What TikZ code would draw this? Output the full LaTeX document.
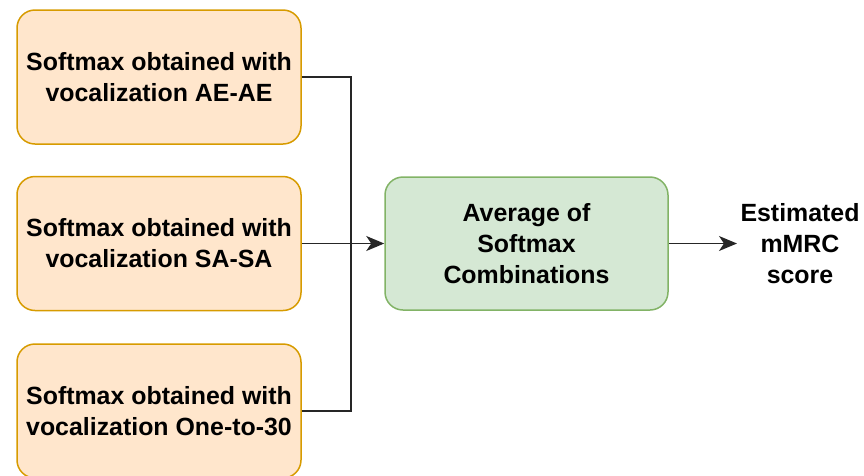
\documentclass[tikz,border=0pt]{standalone}
\usepackage{fontspec}
\setmainfont{Liberation Sans}
\usetikzlibrary{arrows.meta}
\definecolor{ofill}{HTML}{FFE6CC}
\definecolor{odraw}{HTML}{D79B00}
\definecolor{gfill}{HTML}{D5E8D4}
\definecolor{gdraw}{HTML}{82B366}
\begin{document}
\begin{tikzpicture}[x=1pt,y=-1pt,
  lbl/.style={font=\fontsize{24.9}{31}\selectfont\bfseries, align=center},
  softbox/.style={lbl, draw=odraw, fill=ofill, line width=1.5pt, rounded corners=18pt,
    minimum width=284pt, minimum height=134pt, inner sep=0pt},
  avgbox/.style={lbl, draw=gdraw, fill=gfill, line width=1.5pt, rounded corners=18pt,
    minimum width=283pt, minimum height=133pt, inner sep=0pt},
  conn/.style={line width=1.3pt, black!85},
  tip/.style={-{Stealth[length=18pt,width=15pt,inset=5pt]}}]
\useasboundingbox (0,0) rectangle (864,475);
\clip (0,0) rectangle (864,475);
\node[softbox] (b1) at (159,77) {Softmax obtained with\\vocalization AE-AE};
\node[softbox] (b2) at (159,243.5) {Softmax obtained with\\vocalization SA-SA};
\node[softbox] (b3) at (159,411) {Softmax obtained with\\vocalization One-to-30};
\node[avgbox] (avg) at (526.5,243.5) {Average of\\Softmax\\Combinations};
\node[lbl] (est) at (800,243.5) {Estimated\\mMRC\\score};
\coordinate (j) at (351,243.5);
\draw[conn] (b1.east) -| (j);
\draw[conn] (b3.east) -| (j);
\draw[conn,tip] (b2.east) -- (avg.west);
\draw[conn,tip] (avg.east) -- (est.west);
\end{tikzpicture}
\end{document}
